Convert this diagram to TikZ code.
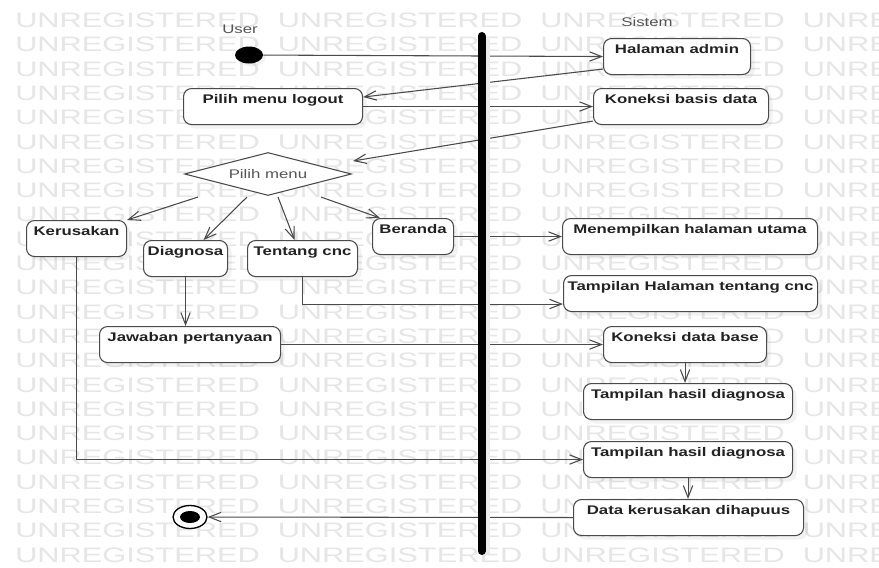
\documentclass[tikz,border=0pt]{standalone}
\usepackage{fontspec}
\setmainfont{Liberation Sans}
\newfontfamily\diagfont[FakeStretch=1.34]{Liberation Sans}
\newfontfamily\markfont[FakeStretch=1.47]{Liberation Sans}
\usetikzlibrary{arrows.meta,shapes.geometric,calc,shadows}

\definecolor{linegray}{HTML}{4A4A4A}
\definecolor{textdark}{HTML}{222222}
\definecolor{textgray}{HTML}{555555}
\definecolor{markgray}{HTML}{E6E6E6}

\tikzset{
  action/.style={draw=linegray, line width=0.8pt, rounded corners=6pt, fill=white,
    drop shadow={shadow xshift=3pt, shadow yshift=-3pt, opacity=0.10},
    anchor=north west, inner xsep=0pt, inner ysep=4.5pt,
    text height=6.75pt, text depth=11.25pt,
    font=\diagfont\bfseries\fontsize{9.4pt}{11pt}\selectfont, text=textdark,
    minimum width=#1*0.75pt},
  choice/.style={diamond, draw=linegray, line width=0.8pt, fill=white,
    aspect=3.9, inner sep=0pt, minimum width=125.25pt, minimum height=32.25pt,
    font=\diagfont\fontsize{9.4pt}{11pt}\selectfont, text=textgray},
  lanelabel/.style={font=\diagfont\fontsize{9.4pt}{11pt}\selectfont, text=textgray, inner sep=0pt},
  flow/.style={draw=linegray, line width=0.8pt, -{Straight Barb[length=9pt,width=7pt]}},
  wmark/.style={font=\markfont\fontsize{15.7pt}{18pt}\selectfont, text=markgray,
    inner sep=0pt, anchor=base west},
}

\begin{document}
\begin{tikzpicture}[x=0.75pt, y=-0.75pt]
  \useasboundingbox (0,0) rectangle (879,568);
  \clip (0,0) rectangle (879,568);
  \fill[white] (0,0) rectangle (879,568);

  % repeated background stamp
  \foreach \r in {0,...,22}{
    \foreach \c in {0,...,3}{
      \node[wmark] (wm-\r-\c) at ({15+262.5*\c},{27.5+24.3*\r}) {UNREGISTERED};
    }
  }

  % swimlane titles
  \node[lanelabel] (user) at (240,29) {User};
  \node[lanelabel] (sistem) at (647,22) {Sistem};

  % start and end states
  \node[ellipse, fill=black, inner sep=0pt, minimum width=21pt, minimum height=12.75pt,
        drop shadow={shadow xshift=2pt, shadow yshift=-2pt, opacity=0.10}] (start) at (249,55) {};
  \node[ellipse, draw=black, line width=1pt, fill=white, inner sep=0pt,
        minimum width=25.5pt, minimum height=17.25pt] (final) at (190,517) {};
  \node[ellipse, fill=black, inner sep=0pt, minimum width=15pt, minimum height=9pt] (final-dot) at (final.center) {};

  % user lane
  \node[action=179] (logout) at (183,88) {Pilih menu logout};
  \node[choice] (menu) at (268,174) {Pilih menu};
  \node[action=100] (kerusakan) at (26,220) {Kerusakan};
  \node[action=84] (diagnosa) at (143,240) {Diagnosa};
  \node[action=110] (tentang) at (247,240) {Tentang cnc};
  \node[action=81] (beranda) at (372,218) {Beranda};
  \node[action=181] (jawaban) at (99,326) {Jawaban pertanyaan};

  % system lane
  \node[action=147] (admin) at (603,38) {Halaman admin};
  \node[action=175] (koneksi1) at (593,88) {Koneksi basis data};
  \node[action=255] (utama) at (562,218) {Menempilkan halaman utama};
  \node[action=254] (tentangcnc) at (563,275) {Tampilan Halaman tentang cnc};
  \node[action=163] (koneksi2) at (603,326) {Koneksi data base};
  \node[action=209] (hasil1) at (583,383) {Tampilan hasil diagnosa};
  \node[action=209] (hasil2) at (583,441) {Tampilan hasil diagnosa};
  \node[action=230] (hapus) at (573,499) {Data kerusakan dihapuus};

  % transitions
  \draw[flow] (start) -- (admin.west);
  \draw[flow] ($(admin.south west)+(0,-6)$) -- ($(logout.east)+(0,-9.5)$);
  \draw[flow] (logout.east) -- (logout.east -| koneksi1.west);
  \draw[flow] ($(koneksi1.south west)+(0,-4)$) -- ($(menu.east)+(1,-13)$);
  \draw[flow] ($(menu.south)+(-70,1)$) -- (kerusakan.north east);
  \draw[flow] ($(menu.south)+(-21,1)$) -- ($(diagnosa.north)+(18,0)$);
  \draw[flow] ($(menu.south)+(10,1)$) -- ($(tentang.north)+(-8,0)$);
  \draw[flow] ($(menu.south)+(53,1)$) -- ($(beranda.north west)+(8,0)$);
  \draw[flow] (beranda.east) -- (beranda.east -| utama.west);
  \draw[flow] (tentang.south) |- ($(tentangcnc.west)+(0,10.5)$);
  \draw[flow] (diagnosa.south) -- (diagnosa.south |- jawaban.north);
  \draw[flow] (jawaban.east) -- (koneksi2.west);
  \draw[flow] (koneksi2.south) -- (koneksi2.south |- hasil1.north);
  \draw[flow] (kerusakan.south) |- (hasil2.west);
  \draw[flow] (hasil2.south) -- (hasil2.south |- hapus.north);
  \draw[flow] (hapus.west) -- (final);

  % lane separator bar
  \coordinate (bar-top) at (481.5,36);
  \coordinate (bar-bottom) at (481.5,551);
  \draw[black!8, line width=4pt] ([xshift=4.5pt,yshift=-2pt]bar-top) -- ([xshift=4.5pt,yshift=-2pt]bar-bottom);
  \draw[black, line width=6pt, line cap=round] (bar-top) -- (bar-bottom);
\end{tikzpicture}
\end{document}
